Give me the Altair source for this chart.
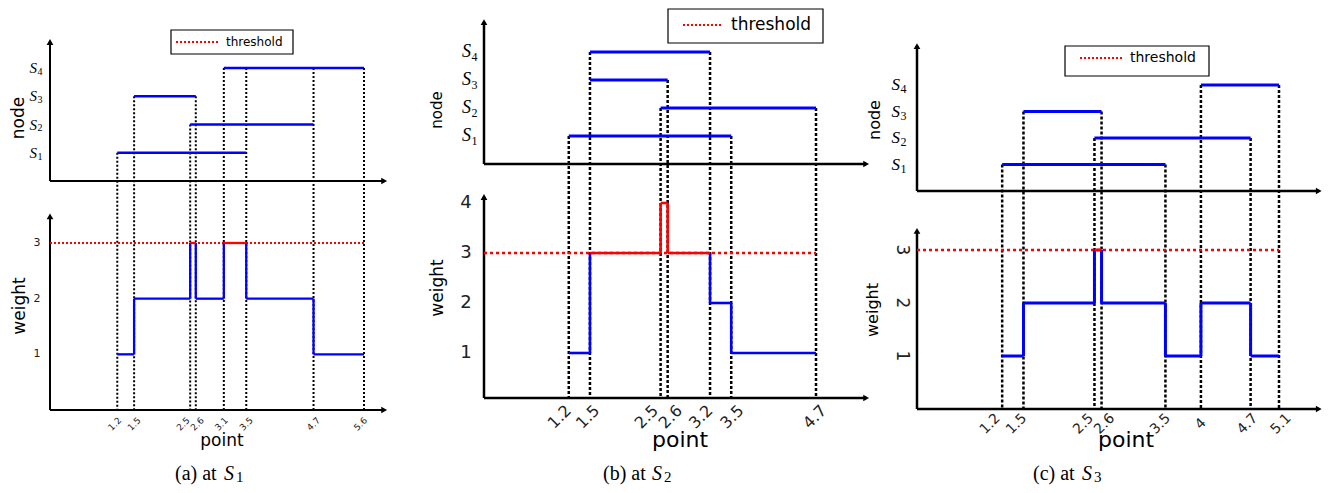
import altair as alt
import pandas as pd

# ---------------- data ----------------
NODE_LEVELS = [1, 2, 3, 4]
NODE_SUBS = ["1", "2", "3", "4"]
THRESHOLD = 3

# (a) at S1
A_seg_node = [1, 2, 3, 4]
A_seg_start = [1.2, 2.5, 1.5, 3.1]
A_seg_end = [3.5, 4.7, 2.6, 5.6]
A_points = [1.2, 1.5, 2.5, 2.6, 3.1, 3.5, 4.7, 5.6]
A_labels = ["1.2", "1.5", "2.5", "2.6", "3.1", "3.5", "4.7", "5.6"]
A_guide_top = [1, 3, 2, 3, 4, 4, 4, 4]
A_weights = [1, 2, 3, 2, 3, 2, 1]
A_wticks = [1, 2, 3]

# (b) at S2
B_seg_node = [1, 2, 3, 4]
B_seg_start = [1.2, 2.5, 1.5, 1.5]
B_seg_end = [3.5, 4.7, 2.6, 3.2]
B_points = [1.2, 1.5, 2.5, 2.6, 3.2, 3.5, 4.7]
B_labels = ["1.2", "1.5", "2.5", "2.6", "3.2", "3.5", "4.7"]
B_guide_top = [1, 4, 2, 3, 4, 1, 2]
B_weights = [1, 3, 4, 3, 2, 1]
B_wticks = [1, 2, 3, 4]

# (c) at S3
C_seg_node = [1, 2, 3, 4]
C_seg_start = [1.2, 2.5, 1.5, 4.0]
C_seg_end = [3.5, 4.7, 2.6, 5.1]
C_points = [1.2, 1.5, 2.5, 2.6, 3.5, 4.0, 4.7, 5.1]
C_labels = ["1.2", "1.5", "2.5", "2.6", "3.5", "4", "4.7", "5.1"]
C_guide_top = [1, 3, 2, 3, 1, 4, 2, 4]
C_weights = [1, 2, 3, 2, 1, 2, 1]
C_wticks = [1, 2, 3]

# ---------------- layout (page pixels) ----------------
OFF = 8
BLUE = "#0000ff"
RED = "#ff0000"
SANS = "DejaVu Sans"
SERIF = "Liberation Serif"

PANELS = [
    dict(seg=(A_seg_node, A_seg_start, A_seg_end), points=A_points, labels=A_labels,
         guide_top=A_guide_top, weights=A_weights, wticks=A_wticks, sub="1",
         xdom=[0, 5.6], xrng=[50, 364], xend=5.96,
         tdom=[0, 4], trng=[181, 68], tend=4.92,
         bdom=[0, 3], brng=[410, 243], bend=3.48, bbase=0, baxis=410,
         axw=2, segw=2.3, wlw=2.3, gw=2, gdash=[2, 2], thw=2, thdash=[2, 2],
         xlab_size=9, xlab_dy=14, xlab_nudge=[-2.5, 0, -7, 1.5, -2.5, 0, 0, -3.5],
         s_x=37, s_size=15, w_x=37, w_size=11, w_angle=0,
         node_title=(19, 118, 17), weight_title=(20, 306, 17), point_title=(222, 441, 17),
         legend=dict(box=(171, 293, 30, 54), line=(176, 218), y=42, tx=226, size=12),
         caption=("(a) at", 175, 224)),
    dict(seg=(B_seg_node, B_seg_start, B_seg_end), points=B_points, labels=B_labels,
         guide_top=B_guide_top, weights=B_weights, wticks=B_wticks, sub="2",
         xdom=[0, 4.7], xrng=[484, 816], xend=5.41,
         tdom=[0, 4], trng=[164, 52], tend=5.07,
         bdom=[0, 4], brng=[403, 203], bend=4.12, bbase=0.1, baxis=398,
         axw=2.5, segw=3, wlw=2.6, gw=2.5, gdash=[3, 2], thw=2.5, thdash=[3, 3],
         xlab_size=16, xlab_dy=19, xlab_nudge=[-9, -2, -14, 3, -9, 1, -1],
         s_x=471, s_size=18, w_x=466, w_size=18, w_angle=0,
         node_title=(437, 110, 15), weight_title=(438, 288, 17), point_title=(680, 440, 22),
         legend=dict(box=(668, 823, 9, 43), line=(683, 723), y=25, tx=731, size=17),
         caption=("(b) at", 603, 652)),
    dict(seg=(C_seg_node, C_seg_start, C_seg_end), points=C_points, labels=C_labels,
         guide_top=C_guide_top, weights=C_weights, wticks=C_wticks, sub="3",
         xdom=[0, 5.1], xrng=[917, 1279], xend=5.66,
         tdom=[0, 4], trng=[191, 85], tend=5.47,
         bdom=[0, 3], brng=[409, 250], bend=3.36, bbase=0, baxis=409,
         axw=2.5, segw=3, wlw=3, gw=2.5, gdash=[3, 2], thw=2.5, thdash=[3, 3],
         xlab_size=14, xlab_dy=15, xlab_nudge=[-12, -7, -11, 3, -5, 0, -3, 2],
         s_x=900, s_size=17, w_x=902, w_size=17, w_angle=90,
         node_title=(875, 120, 16), weight_title=(873, 310, 16), point_title=(1126, 440, 22),
         legend=dict(box=(1065, 1209, 46, 76), line=(1080, 1122), y=58, tx=1130, size=14),
         caption=("(c) at", 1033, 1082)),
]


def xscale(p):
    return alt.Scale(domain=p["xdom"], range=[p["xrng"][0] - OFF, p["xrng"][1] - OFF],
                     nice=False, zero=False)


def yscale(p, w):
    d = p[w + "dom"]
    r = p[w + "rng"]
    return alt.Scale(domain=d, range=[r[0] - OFF, r[1] - OFF], nice=False, zero=False)


def X(p, f="x"):
    return alt.X(f + ":Q", scale=xscale(p), axis=None)


def Y(p, w, f="y"):
    return alt.Y(f + ":Q", scale=yscale(p, w), axis=None)


def text_at(t, x, y, **mk):
    return alt.Chart(pd.DataFrame({"t": [t]})).mark_text(**mk).encode(
        x=alt.value(x - OFF), y=alt.value(y - OFF), text="t:N")


layers = []
for p in PANELS:
    # ---- axes ----
    for w, base, end in (("t", 0, p["tend"]), ("b", p["bbase"], p["bend"])):
        layers.append(alt.Chart(pd.DataFrame({"x": [0], "x2": [p["xend"]], "y": [base]}))
                      .mark_rule(color="black", strokeWidth=p["axw"])
                      .encode(x=X(p), x2="x2:Q", y=Y(p, w)))
        layers.append(alt.Chart(pd.DataFrame({"x": [0], "y": [base], "y2": [end]}))
                      .mark_rule(color="black", strokeWidth=p["axw"])
                      .encode(x=X(p), y=Y(p, w), y2="y2:Q"))
        layers.append(alt.Chart(pd.DataFrame({"x": [p["xend"]], "y": [base]}))
                      .mark_point(shape="triangle-right", filled=True, color="black", size=45, opacity=1)
                      .encode(x=X(p), y=Y(p, w)))
        layers.append(alt.Chart(pd.DataFrame({"x": [0], "y": [end]}))
                      .mark_point(shape="triangle-up", filled=True, color="black", size=45, opacity=1)
                      .encode(x=X(p), y=Y(p, w)))

    # ---- dotted guides ----
    gdf = pd.DataFrame({"x": p["points"], "y": p["guide_top"]})
    layers.append(alt.Chart(gdf).mark_rule(color="black", strokeWidth=p["gw"], strokeDash=p["gdash"])
                  .encode(x=X(p), y=Y(p, "t"), y2=alt.value(p["baxis"] - OFF)))

    # ---- threshold ----
    tdf = pd.DataFrame({"x": [0], "x2": [p["points"][-1]], "y": [THRESHOLD]})
    layers.append(alt.Chart(tdf).mark_rule(color=RED, strokeWidth=p["thw"], strokeDash=p["thdash"])
                  .encode(x=X(p), x2="x2:Q", y=Y(p, "b")))

    # ---- weight step line ----
    pts, wts = p["points"], p["weights"]
    hdf = pd.DataFrame({"x": pts[:-1], "x2": pts[1:], "y": wts,
                        "hot": [int(v >= THRESHOLD) for v in wts]})
    vdf = pd.DataFrame({"x": pts[1:-1], "y": wts[:-1], "y2": wts[1:],
                        "hot": [int(min(a, b) >= THRESHOLD) for a, b in zip(wts[:-1], wts[1:])]})
    col = alt.condition("datum.hot > 0", alt.value(RED), alt.value(BLUE))
    layers.append(alt.Chart(vdf).mark_rule(strokeWidth=p["wlw"])
                  .encode(x=X(p), y=Y(p, "b"), y2="y2:Q", color=col))
    layers.append(alt.Chart(hdf).mark_rule(strokeWidth=p["wlw"])
                  .encode(x=X(p), x2="x2:Q", y=Y(p, "b"), color=col))

    # ---- node segments ----
    nodes, st, en = p["seg"]
    sdf = pd.DataFrame({"x": st, "x2": en, "y": nodes})
    layers.append(alt.Chart(sdf).mark_rule(color=BLUE, strokeWidth=p["segw"])
                  .encode(x=X(p), x2="x2:Q", y=Y(p, "t")))

    # ---- x tick labels (rotated 45 deg, centred on tick, small nudges) ----
    for xv, lab, sx in zip(pts, p["labels"], p["xlab_nudge"]):
        ldf = pd.DataFrame({"x": [xv], "label": [lab]})
        layers.append(alt.Chart(ldf).mark_text(angle=315, align="center", baseline="middle",
                                               font=SANS, fontSize=p["xlab_size"], color="#222222",
                                               dx=0.707 * sx, dy=0.707 * sx)
                      .encode(x=X(p), y=alt.value(p["baxis"] - OFF + p["xlab_dy"]),
                              text="label:N"))

    # ---- node tick labels ----
    ndf = pd.DataFrame({"y": NODE_LEVELS, "s": ["S"] * 4, "sub": NODE_SUBS})
    layers.append(alt.Chart(ndf).mark_text(align="right", baseline="middle", font=SERIF,
                                           fontStyle="italic", fontSize=p["s_size"], color="black")
                  .encode(x=alt.value(p["s_x"] - OFF), y=Y(p, "t"), text="s:N"))
    layers.append(alt.Chart(ndf).mark_text(align="left", baseline="middle", font=SERIF,
                                           fontSize=round(p["s_size"] * 0.68), color="black",
                                           dy=p["s_size"] * 0.25)
                  .encode(x=alt.value(p["s_x"] - OFF + 0.5), y=Y(p, "t"), text="sub:N"))

    # ---- weight tick labels ----
    wdf = pd.DataFrame({"y": p["wticks"], "label": [str(v) for v in p["wticks"]]})
    layers.append(alt.Chart(wdf).mark_text(align="center", baseline="middle", font=SANS,
                                           fontSize=p["w_size"], angle=p["w_angle"], color="#222222")
                  .encode(x=alt.value(p["w_x"] - OFF), y=Y(p, "b"), text="label:N"))

    # ---- axis titles ----
    nx, ny, ns = p["node_title"]
    layers.append(text_at("node", nx, ny, angle=270, align="center", baseline="middle",
                          font=SANS, fontSize=ns, color="black"))
    wx, wy, ws = p["weight_title"]
    layers.append(text_at("weight", wx, wy, angle=270, align="center", baseline="middle",
                          font=SANS, fontSize=ws, color="black"))
    px_, py_, ps = p["point_title"]
    layers.append(text_at("point", px_, py_, align="center", baseline="middle",
                          font=SANS, fontSize=ps, color="black"))

    # ---- legend ----
    lg = p["legend"]
    bx0, bx1, by0, by1 = lg["box"]
    one = pd.DataFrame({"k": [0]})
    layers.append(alt.Chart(one).mark_rect(fill="white", stroke="black", strokeWidth=1.2)
                  .encode(x=alt.value(bx0 - OFF), x2=alt.value(bx1 - OFF),
                          y=alt.value(by0 - OFF), y2=alt.value(by1 - OFF)))
    layers.append(alt.Chart(one).mark_rule(color=RED, strokeWidth=2, strokeDash=[2, 2])
                  .encode(x=alt.value(lg["line"][0] - OFF), x2=alt.value(lg["line"][1] - OFF),
                          y=alt.value(lg["y"] - OFF)))
    layers.append(text_at("threshold", lg["tx"], lg["y"], align="left", baseline="middle",
                          font=SANS, fontSize=lg["size"], color="black"))

    # ---- caption ----
    ctext, cx, csx = p["caption"]
    layers.append(text_at(ctext, cx, 480, align="left", baseline="alphabetic",
                          font=SERIF, fontSize=20, color="black"))
    layers.append(text_at("S", csx, 480, align="left", baseline="alphabetic",
                          font=SERIF, fontStyle="italic", fontSize=20, color="black"))
    layers.append(text_at(p["sub"], csx + 12, 482, align="left", baseline="alphabetic",
                          font=SERIF, fontSize=15, color="black"))

chart = (alt.layer(*layers)
         .resolve_scale(x="independent", y="independent")
         .properties(width=1315, height=477, padding=0, autosize=alt.AutoSizeParams(type="none"))
         .configure_view(stroke=None))

chart.save("out.html", embed_options={"renderer": "svg", "actions": False})
